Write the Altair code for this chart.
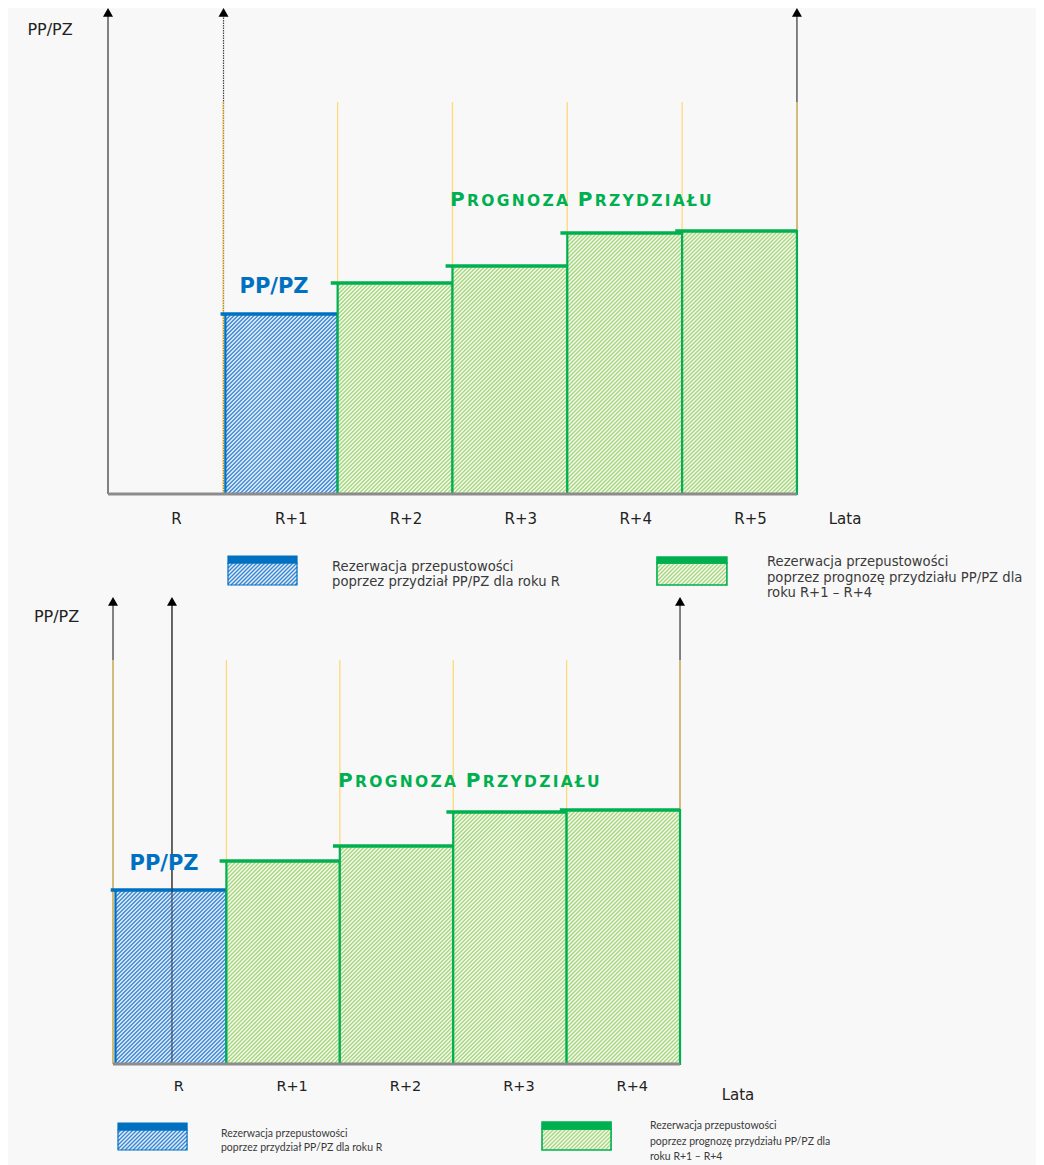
import altair as alt
import pandas as pd

# ---------------- data ----------------
top_years = ["R", "R+1", "R+2", "R+3", "R+4", "R+5"]
top_alloc_years = ["R+1"]
top_alloc_values = [180]
top_forecast_years = ["R+2", "R+3", "R+4", "R+5"]
top_forecast_values = [211, 228, 261, 263]

bottom_years = ["R", "R+1", "R+2", "R+3", "R+4"]
bottom_alloc_years = ["R"]
bottom_alloc_values = [174]
bottom_forecast_years = ["R+1", "R+2", "R+3", "R+4"]
bottom_forecast_values = [203, 218, 252, 254]

y_title = "PP/PZ"
x_title = "Lata"
alloc_title = "PP/PZ"
forecast_words = ["PROGNOZA", "PRZYDZIAŁU"]
legend_alloc_lines = ["Rezerwacja przepustowości", "poprzez przydział PP/PZ dla roku R"]
legend_forecast_lines = ["Rezerwacja przepustowości",
                         "poprzez  prognozę przydziału PP/PZ dla",
                         "roku R+1 – R+4"]

# ---------------- style ----------------
BLUE = "#0070C0"
GREEN = "#00B050"
YELLOW = "#FFD97A"
BG = "#F8F8F8"
BLUE_INK, BLUE_PAPER = "#3A86D3", "#E3EEF9"
GREEN_INK, GREEN_PAPER = "#A6D67C", "#F5FAEF"
PANEL_W = 1028
HATCH_STEP = 4.0

# DejaVu Sans Bold advance widths (em) for the small-caps title
ADV = {"P": 0.734, "R": 0.770, "O": 0.850, "G": 0.820, "N": 0.837, "Z": 0.723,
       "A": 0.765, " ": 0.348, "Y": 0.724, "D": 0.830, "I": 0.371, "Ł": 0.637,
       "U": 0.813}


def hatch_lines(x0d, y0d, w_px, h_px, sx, sy):
    """Diagonal '/' hatch lines clipped to a box whose lower-left corner is (x0d, y0d)."""
    rows = []
    c = -w_px + HATCH_STEP / 2
    while c < h_px:
        xa = max(0.0, -c)
        xb = min(w_px, h_px - c)
        if xb > xa:
            rows.append({"x": x0d + xa / sx, "y": y0d + (xa + c) / sy,
                         "x2": x0d + xb / sx, "y2": y0d + (xb + c) / sy})
        c += HATCH_STEP
    return pd.DataFrame(rows)


def panel(cfg, years, alloc_years, alloc_vals, fc_years, fc_vals):
    H = cfg["height"]
    x0, x1 = cfg["xdom"]
    y0, y1 = cfg["ydom"]
    sx = PANEL_W / (x1 - x0)
    sy = H / (y1 - y0)
    xs = alt.Scale(domain=[x0, x1], nice=False, zero=False)
    ys = alt.Scale(domain=[y0, y1], nice=False, zero=False)

    def enc(x2=False, y2=False):
        d = dict(x=alt.X("x:Q", scale=xs, axis=None), y=alt.Y("y:Q", scale=ys, axis=None))
        if x2:
            d["x2"] = alt.X2("x2:Q")
        if y2:
            d["y2"] = alt.Y2("y2:Q")
        return d

    def hatched_box(xa, xb, ya, yb, ink, paper, col, sw):
        """box from (xa, ya) to (xb, yb) in data units, hatched, outlined."""
        out = []
        df = pd.DataFrame({"x": [xa], "x2": [xb], "y": [ya], "y2": [yb]})
        out.append(alt.Chart(df).mark_rect(fill=paper).encode(**enc(x2=True, y2=True)))
        hl = hatch_lines(xa, ya, (xb - xa) * sx, (yb - ya) * sy, sx, sy)
        out.append(alt.Chart(hl).mark_rule(color=ink, strokeWidth=1.35).encode(**enc(x2=True, y2=True)))
        out.append(alt.Chart(df).mark_rect(fillOpacity=0, stroke=col, strokeWidth=sw).encode(
            **enc(x2=True, y2=True)))
        return out

    layers = []
    ncols = len(years)

    # axis arrows (lines)
    for k, style in cfg["arrows"]:
        df = pd.DataFrame({"x": [k], "y": [0], "y2": [cfg["axis_top"] - 5 / sy]})
        if style == "axis":
            m = alt.Chart(df).mark_rule(color="#808080", strokeWidth=2)
        elif style == "dotted":
            m = alt.Chart(df).mark_rule(color="#444444", strokeWidth=1.2, strokeDash=[1.5, 1])
        elif style == "thin":
            m = alt.Chart(df).mark_rule(color="#333333", strokeWidth=1)
        else:
            m = alt.Chart(df).mark_rule(color="#505050", strokeWidth=1.4)
        layers.append(m.encode(**enc(y2=True)))

    # yellow guides
    gdf = pd.DataFrame({"x": cfg["guides"], "y": [0] * len(cfg["guides"]),
                        "y2": [cfg["guide_top"]] * len(cfg["guides"])})
    layers.append(alt.Chart(gdf).mark_rule(color=YELLOW, strokeWidth=1.3).encode(**enc(y2=True)))

    # bars
    def bar_layers(yrs, vals, ink, paper, col, inset, ext):
        out = []
        for yv, v in zip(yrs, vals):
            k = years.index(yv)
            out += hatched_box(k + inset, k + 1, 0, v, ink, paper, col, 2.2)
        cap = pd.DataFrame({"x": [years.index(yv) - ext for yv in yrs],
                            "x2": [years.index(yv) + 1 for yv in yrs],
                            "y": list(vals)})
        out.append(alt.Chart(cap).mark_rule(color=col, strokeWidth=3.6).encode(**enc(x2=True)))
        return out

    layers += bar_layers(alloc_years, alloc_vals, BLUE_INK, BLUE_PAPER, BLUE, 0.022, 0.02)
    layers += bar_layers(fc_years, fc_vals, GREEN_INK, GREEN_PAPER, GREEN, 0.0, 0.06)

    # second (thin) arrow drawn above the bars
    for k, style in cfg["arrows"]:
        if style == "thin":
            df = pd.DataFrame({"x": [k], "y": [0], "y2": [cfg["axis_top"] - 5 / sy]})
            layers.append(alt.Chart(df).mark_rule(color="#333333", strokeWidth=1).encode(**enc(y2=True)))

    # baseline
    bdf = pd.DataFrame({"x": [0], "x2": [ncols], "y": [0]})
    layers.append(alt.Chart(bdf).mark_rule(color="#8C8C8C", strokeWidth=3).encode(**enc(x2=True)))

    # arrow heads
    tdf = pd.DataFrame({"x": [k for k, _ in cfg["arrows"]],
                        "y": [cfg["axis_top"] - 4.4 / sy] * len(cfg["arrows"])})
    layers.append(alt.Chart(tdf).mark_point(shape="triangle-up", filled=True, size=100,
                                            color="black", opacity=1).encode(**enc()))

    # year labels
    ldf = pd.DataFrame({"x": [i + 0.5 for i in range(ncols)], "y": [cfg["label_y"]] * ncols,
                        "t": years})
    layers.append(alt.Chart(ldf).mark_text(font="DejaVu Sans", fontSize=cfg["label_size"],
                                           color="#222222", dx=cfg["label_dx"],
                                           baseline="middle").encode(text="t:N", **enc()))
    # Lata
    lx, ly = cfg["lata"]
    layers.append(alt.Chart(pd.DataFrame({"x": [lx], "y": [ly], "t": [x_title]})).mark_text(
        font="DejaVu Sans", fontSize=15, color="#222222", baseline="middle").encode(text="t:N", **enc()))
    # y title
    tx, ty = cfg["ytitle"]
    layers.append(alt.Chart(pd.DataFrame({"x": [tx], "y": [ty], "t": [y_title]})).mark_text(
        font="DejaVu Sans", fontSize=16, color="#222222", baseline="middle").encode(text="t:N", **enc()))
    # blue label
    ax, ay = cfg["alloc_label"]
    layers.append(alt.Chart(pd.DataFrame({"x": [ax], "y": [ay], "t": [alloc_title]})).mark_text(
        font="DejaVu Sans", fontSize=21, fontWeight="bold", color=BLUE,
        baseline="middle").encode(text="t:N", **enc()))

    # green small-caps title, placed letter by letter
    fx, fy = cfg["fc_title"]
    chars, xpos, sizes = [], [], []
    cur = 0.0
    text = " ".join(forecast_words)
    big, small, spacing = 20, 15.5, 2.3
    first = True
    for ch in text:
        fs = big if first else small
        first = (ch == " ")
        if ch != " ":
            chars.append(ch)
            xpos.append(fx + cur / sx)
            sizes.append(fs)
        cur += ADV[ch] * fs + spacing
    cdf = pd.DataFrame({"x": xpos, "y": [fy] * len(chars), "t": chars, "fs": sizes})
    layers.append(alt.Chart(cdf).mark_text(font="DejaVu Sans", fontWeight="bold", color=GREEN,
                                           align="left", baseline="alphabetic").encode(
        text="t:N", size=alt.Size("fs:Q", scale=None, legend=None), **enc()))

    # legend swatches
    for (bx0, bx1, by0, by1, band), ink, paper, col, sw in [
        (cfg["lg_alloc_box"], BLUE_INK, BLUE_PAPER, BLUE, 1.2),
        (cfg["lg_fc_box"], GREEN_INK, GREEN_PAPER, GREEN, 1.6),
    ]:
        layers += hatched_box(bx0, bx1, by1, by0 - band / sy, ink, paper, col, sw)
        sdf = pd.DataFrame({"x": [bx0], "x2": [bx1], "y": [by0 - band / sy], "y2": [by0]})
        layers.append(alt.Chart(sdf).mark_rect(fill=col, stroke=col, strokeWidth=sw).encode(
            **enc(x2=True, y2=True)))

    # legend texts
    for (tx0, ty0, step), lines in [(cfg["lg_alloc_text"], legend_alloc_lines),
                                   (cfg["lg_fc_text"], legend_forecast_lines)]:
        df = pd.DataFrame({"x": [tx0] * len(lines),
                           "y": [ty0 - i * step / sy for i in range(len(lines))],
                           "t": lines})
        layers.append(alt.Chart(df).mark_text(font=cfg["lg_font"], fontSize=cfg["lg_size"],
                                              color="#3A3A3A", align="left",
                                              baseline="middle").encode(text="t:N", **enc()))

    return alt.layer(*layers).properties(width=PANEL_W, height=H)


top_cfg = dict(
    height=588, xdom=(-0.871, 8.082), ydom=(-102, 486),
    guides=[1, 2, 3, 4, 5, 6], guide_top=392, axis_top=486,
    arrows=[(0, "axis"), (1.006, "dotted"), (6, "dark")],
    label_y=-25, label_dx=11, label_size=15, lata=(6.419, -25), ytitle=(-0.505, 464),
    alloc_label=(1.446, 207), fc_title=(2.978, 288),
    lg_alloc_box=(1.045, 1.646, -62, -91, 7), lg_fc_box=(4.781, 5.39, -63, -91, 6),
    lg_alloc_text=(1.951, -73, 15), lg_fc_text=(5.739, -68, 15.5),
    lg_font="DejaVu Sans", lg_size=13.2,
)

bottom_cfg = dict(
    height=569, xdom=(-0.926, 8.139), ydom=(-101, 468),
    guides=[0, 1, 2, 3, 4, 5], guide_top=404, axis_top=467,
    arrows=[(0, "dark"), (0.52, "thin"), (5, "dark")],
    label_y=-23, label_dx=9, label_size=14.5, lata=(5.511, -31), ytitle=(-0.498, 447),
    alloc_label=(0.45, 200), fc_title=(1.984, 277),
    lg_alloc_box=(0.044, 0.653, -59, -86, 7), lg_fc_box=(3.783, 4.392, -58, -86, 7),
    lg_alloc_text=(0.952, -70, 14), lg_fc_text=(4.735, -62, 15.5),
    lg_font="Lato", lg_size=10.5,
)

top = panel(top_cfg, top_years, top_alloc_years, top_alloc_values,
            top_forecast_years, top_forecast_values)
bottom = panel(bottom_cfg, bottom_years, bottom_alloc_years, bottom_alloc_values,
               bottom_forecast_years, bottom_forecast_values)

chart = alt.vconcat(top, bottom, spacing=0, bounds="flush").resolve_scale(
    x="independent", y="independent"
).properties(background=BG, padding=0).configure_view(stroke=None)

chart.save("out.html", embed_options={"renderer": "svg", "actions": False})
